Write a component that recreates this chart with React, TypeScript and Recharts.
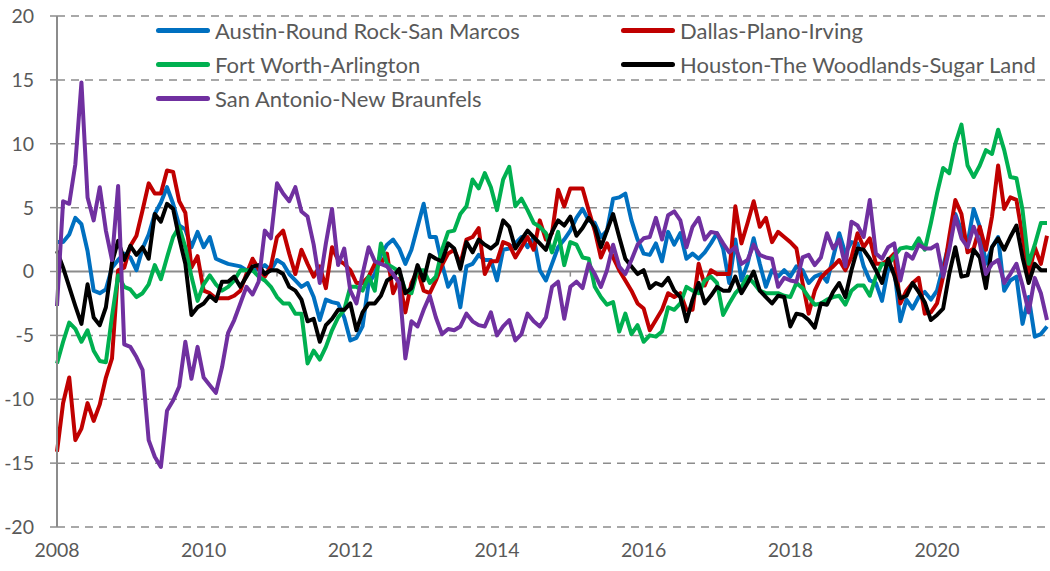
import React from "react";
import { CartesianGrid, Line, LineChart, ReferenceLine, XAxis, YAxis } from "recharts";

// monthly values, Jan 2008 .. Jul 2021
const austin = [
  2.3, 2.3, 2.9, 4.2, 3.7, 1.6, -1.5, -1.7, -1.4, 0.3, 0.9, 1.4,
  1.1, 0.1, 1.8, 2.9, 4.5, 5.4, 6.6, 5.3, 3.6, 3.3, 1.9, 3.1,
  1.9, 2.7, 1.0, 0.8, 0.6, 0.5, 0.4, 0.1, 0.1, 0.2, 0.5, 0.1,
  0.9, 0.6, -0.2, -0.7, -1.2, -0.9, -2.0, -3.8, -2.2, -2.4, -2.5, -3.6,
  -5.4, -5.2, -4.3, -0.9, -0.2, 1.3, 2.1, 2.5, 1.8, 0.6, 1.7, 3.5,
  5.3, 2.7, 2.7, 0.6, -1.2, -0.4, -2.8, 0.4, 0.6, 1.3, 0.9, 0.9,
  -0.7, 1.7, 1.8, 2.2, 2.7, 1.9, 2.7, 0.1, -0.7, 0.6, 1.9, 2.5,
  3.2, 4.2, 4.9, 4.0, 3.8, 2.7, 3.2, 5.7, 5.8, 6.1, 4.0, 2.5,
  1.4, 1.3, 2.2, 0.8, 3.1, 2.1, 3.0, 1.0, 1.4, 1.0, 1.5, 2.2,
  3.0, 1.8, -0.9, 2.5, -0.7, 0.6, 2.6, 0.6, -1.2, 0.1, -0.4, 0.1,
  -0.4, 0.4, 0.1, -0.9, -0.4, -0.2, -0.8, 1.1, 3.0, 1.4, 2.3, 2.2,
  0.4, -0.7, -0.9, -2.3, 0.2, 0.2, -3.9, -2.2, -2.9, -2.0, -1.6, -2.2,
  -1.5, 0.4, 2.2, 4.5, 3.2, 2.2, 4.9, 3.5, 0.6, 1.9, 2.7, -1.5,
  -0.7, -0.4, -4.1, -2.0, -5.1, -4.9, -4.3,
];

const dallas = [
  -14.1, -10.3, -8.3, -13.2, -12.3, -10.3, -11.7, -10.4, -8.3, -6.8, 0.1, 0.3,
  2.0, 2.8, 4.8, 6.9, 6.1, 6.1, 7.9, 7.8, 5.5, 4.6, 0.3, 1.2,
  -1.5, -1.7, -2.1, -2.1, -2.1, -1.9, -1.5, -0.2, 1.0, 0.2, -0.4, 0.4,
  2.7, 3.2, 1.4, -0.2, 1.7, 0.6, -0.4, 0.4, -1.3, 1.9, 0.9, 0.6,
  0.1, -0.9, -0.9, -0.4, 0.6, 0.6, 1.4, -1.7, -0.6, -3.2, -0.9, 0.1,
  -1.5, -1.7, -0.7, 0.5, 1.4, 1.7, 0.6, 2.5, 2.7, 3.4, -0.2, 0.8,
  0.8, 2.3, 2.1, 1.1, 1.9, 2.7, 1.7, 4.0, 2.5, 3.0, 6.4, 5.1,
  6.5, 6.5, 6.5, 4.8, 3.2, 1.1, 2.2, 1.1, 0.1, -0.7, -1.5, -2.5,
  -2.9, -4.6, -3.8, -3.0, -1.7, -2.0, -1.7, -3.0, -3.0, 0.6, -1.1, 0.1,
  -0.2, -0.2, -0.2, 5.1, 2.2, 3.8, 5.5, 3.5, 4.2, 2.3, 3.1, 2.7,
  2.3, 1.8, -0.9, -3.3, -1.5, -0.5, 0.0, 0.4, 0.9, 0.1, 1.1, 3.0,
  1.9, 2.6, 0.6, 0.6, 0.9, 1.4, -2.5, -1.5, -0.9, -0.5, -3.3, -3.2,
  -2.5, -0.4, 2.7, 5.6, 4.5, 1.5, 1.8, 3.5, 1.7, 4.3, 8.3, 4.9,
  5.8, 5.6, 2.7, -0.4, 1.9, 0.6, 2.8,
];

const fortWorth = [
  -7.2, -5.5, -4.0, -4.5, -5.5, -4.6, -6.2, -7.0, -7.1, -3.5, -0.3, -1.2,
  -1.4, -2.0, -1.7, -1.0, 0.5, -0.6, 1.1, 2.7, 3.5, 1.9, -0.4, -2.3,
  -1.0, -0.3, -1.0, -1.5, -1.2, -0.7, 0.1, 0.1, 0.1, -0.4, -0.7, -1.2,
  -2.0, -2.5, -2.5, -3.3, -3.3, -7.2, -6.2, -6.9, -5.9, -4.6, -3.6, -3.0,
  -1.2, -1.2, -1.5, -0.4, -1.5, 2.2, 0.6, 0.3, 0.0, -1.5, -1.7, 0.1,
  0.1, -0.9, -0.4, 1.7, 3.1, 3.2, 4.5, 5.1, 7.2, 6.5, 7.7, 6.6,
  4.8, 7.2, 8.2, 5.1, 5.7, 4.8, 3.8, 3.5, 3.0, 1.5, 3.1, 0.5,
  2.3, 2.1, 1.1, 1.0, -1.2, -2.0, -2.6, -2.4, -4.7, -3.3, -4.9, -4.2,
  -5.5, -5.0, -5.1, -4.7, -2.8, -3.0, -2.5, -1.2, -1.5, -1.7, -0.7, -0.4,
  -0.9, -3.4, -2.5, -1.7, -1.2, -0.4, -0.9, -1.5, -1.7, -1.7, -1.7, -1.9,
  -2.0, -0.9, -1.3, -2.0, -2.6, -2.5, -2.2, -2.0, -1.9, -2.6, -1.5, -1.1,
  -1.1, -1.9, -0.4, 0.6, 0.5, 1.2, 1.8, 1.9, 1.8, 2.6, 1.7, 3.8,
  6.1, 8.1, 7.7, 10.0, 11.5, 8.3, 7.4, 8.3, 9.5, 9.2, 11.1, 9.5,
  7.4, 7.3, 4.8, 0.6, 2.1, 3.8, 3.8,
];

const houston = [
  1.6, 0.3, -1.2, -2.7, -4.1, -1.0, -3.6, -4.2, -2.8, 0.7, 2.4, 0.9,
  2.0, 1.3, 1.9, 1.0, 4.5, 3.9, 5.3, 4.9, 2.6, 0.6, -3.4, -2.8,
  -2.5, -1.9, -2.3, -0.8, -0.8, -0.4, -1.2, -0.4, 0.4, 0.5, -0.2, 0.1,
  0.1, -0.2, -1.2, -1.5, -2.2, -3.9, -3.7, -5.5, -4.2, -3.7, -3.0, -3.0,
  -2.5, -4.6, -3.2, -2.5, -2.5, -1.9, -0.7, -0.4, 0.2, -1.7, -1.3, 0.5,
  -0.7, 1.3, 1.0, 0.8, 2.2, 1.8, 0.2, 2.3, 1.5, 2.5, 2.1, 1.8,
  2.2, 4.0, 3.5, 1.8, 2.5, 3.2, 2.7, 2.2, 1.7, 3.1, 4.0, 3.6,
  4.3, 2.8, 3.4, 4.2, 3.5, 1.9, 3.2, 4.5, 2.7, 1.0, 0.4, -0.2,
  0.1, -1.3, -0.9, -1.1, -0.5, -1.5, -2.0, -3.9, -2.2, -0.9, -2.5, -1.9,
  -1.2, -1.5, -1.5, -0.4, -1.7, -0.9, 0.0, -1.5, -2.0, -2.5, -1.9, -2.0,
  -4.3, -3.3, -3.4, -3.8, -4.4, -2.5, -2.6, -1.6, -0.9, -2.0, 0.1, 1.8,
  1.7, 1.0, 0.1, -0.9, 1.0, -0.3, -2.1, -1.9, -0.9, -1.6, -2.4, -3.8,
  -3.4, -2.9, -0.2, 1.9, -0.4, -0.3, 1.7, 1.1, -1.3, 1.9, 2.6, 1.7,
  2.7, 3.6, 1.1, -0.9, 0.6, 0.1, 0.1,
];

const sanAntonio = [
  -2.7, 5.5, 5.3, 8.4, 14.8, 5.8, 4.0, 6.6, 3.2, 0.9, 6.7, -5.7,
  -5.9, -6.7, -7.7, -13.2, -14.5, -15.3, -10.9, -10.1, -9.0, -5.5, -8.4, -5.9,
  -8.3, -8.9, -9.5, -7.5, -4.8, -3.8, -2.5, -1.2, -1.8, -0.8, 3.2, 2.6,
  6.9, 6.1, 5.5, 6.6, 4.7, 4.3, 2.1, -0.9, 2.2, 4.9, 0.5, 1.8,
  -1.5, -2.5, -0.2, 1.9, 0.8, 0.6, 0.4, -0.2, -0.9, -6.8, -3.9, -4.3,
  -3.0, -1.9, -3.6, -4.9, -4.5, -4.6, -4.3, -3.3, -3.9, -4.2, -4.3, -3.2,
  -5.0, -4.3, -3.8, -5.4, -4.9, -3.3, -3.9, -4.3, -3.6, -1.2, -0.8, -3.7,
  -1.2, -0.8, -1.3, 0.6, -0.2, -1.2, 0.1, 2.1, 0.4, -0.2, 0.9, 2.1,
  2.6, 2.7, 4.2, 2.5, 4.4, 4.7, 4.0, 1.9, 3.5, 4.2, 2.5, 3.1,
  3.0, 2.2, 1.5, 1.9, 0.6, 0.9, 2.1, 1.3, 1.1, 1.0, -1.2, -0.5,
  -0.7, -0.8, 1.1, 1.3, 0.5, 1.1, 3.0, 1.8, 2.5, 0.4, 3.9, 3.6,
  2.7, 5.6, 1.4, 1.0, 1.9, 2.2, -0.7, 1.4, 1.0, 2.1, 1.8, 1.8,
  2.1, -0.4, 1.7, 4.3, 2.6, 1.9, 3.5, 2.2, -0.2, 0.6, 0.9, -0.9,
  -0.2, 0.6, -1.1, -3.2, -0.5, -1.7, -3.8,
];

const yTicks = [-20, -15, -10, -5, 0, 5, 10, 15, 20];
const labelMonths = [0, 24, 48, 72, 96, 120, 144];
const labelYears = ["2008", "2010", "2012", "2014", "2016", "2018", "2020"];
const yearMarks = [12, 24, 36, 48, 60, 72, 84, 96, 108, 120, 132, 144, 156];

const series = [
  { key: "austin", label: "Austin-Round Rock-San Marcos", color: "#0070C0" },
  { key: "dallas", label: "Dallas-Plano-Irving", color: "#C00000" },
  { key: "fortWorth", label: "Fort Worth-Arlington", color: "#00B050" },
  { key: "houston", label: "Houston-The Woodlands-Sugar Land", color: "#000000" },
  { key: "sanAntonio", label: "San Antonio-New Braunfels", color: "#7030A0" },
];

const data = austin.map((v, i) => ({
  m: i,
  austin: v,
  dallas: dallas[i],
  fortWorth: fortWorth[i],
  houston: houston[i],
  sanAntonio: sanAntonio[i],
}));

const FONT = "Lato, 'Open Sans', sans-serif";
const GRAY = "#8c8c8c";
const TEXT = "#595959";

const gridLine = (p: any) => (
  <line
    key={`g-${p.index}`}
    x1={p.x1}
    y1={p.y1}
    x2={p.x2}
    y2={p.y2}
    stroke={GRAY}
    strokeWidth={p.index === 4 ? 2 : 1.5}
    strokeDasharray={p.index === 4 ? undefined : "8 6"}
  />
);

function ChartLegend() {
  return (
    <div
      style={{
        position: "absolute",
        left: 156,
        top: 13,
        display: "grid",
        gridTemplateColumns: "465px 420px",
        fontFamily: FONT,
        fontSize: 22,
        color: TEXT,
      }}
    >
      {series.map((s) => (
        <div key={s.key} style={{ display: "flex", alignItems: "center", height: 34, whiteSpace: "nowrap" }}>
          <span
            style={{
              display: "inline-block",
              width: 54,
              height: 5,
              borderRadius: 3,
              background: s.color,
              marginRight: 5,
            }}
          />
          <span>{s.label}</span>
        </div>
      ))}
    </div>
  );
}

export default function App() {
  return (
    <div style={{ position: "absolute", left: 0, top: 0, width: 1050, height: 571, background: "#fff" }}>
      <LineChart
        width={1050}
        height={571}
        data={data}
        margin={{ top: 16, right: 3, left: 0, bottom: 0 }}
      >
        <CartesianGrid vertical={false} horizontal={gridLine} />
        <XAxis
          type="number"
          dataKey="m"
          domain={[0, 162]}
          ticks={labelMonths}
          tickFormatter={(m: number) => labelYears[labelMonths.indexOf(m)] ?? ""}
          axisLine={false}
          tickLine={false}
          tickSize={0}
          tickMargin={16}
          height={44}
          interval={0}
          tick={{ fill: TEXT, fontSize: 19.5, fontFamily: FONT }}
        />
        <YAxis
          domain={[-20, 20]}
          ticks={yTicks}
          interval={0}
          width={57}
          axisLine={{ stroke: GRAY, strokeWidth: 2 }}
          tickLine={{ stroke: GRAY, strokeWidth: 1.5 }}
          tickSize={7}
          tickMargin={16}
          tick={{ fill: TEXT, fontSize: 19.5, fontFamily: FONT }}
        />
        {yearMarks.map((mk) => (
          <ReferenceLine
            key={mk}
            segment={[
              { x: mk, y: 0 },
              { x: mk, y: -0.4 },
            ]}
            stroke={GRAY}
            strokeWidth={1.5}
          />
        ))}
        {series.map((s) => (
          <Line
            key={s.key}
            type="linear"
            dataKey={s.key}
            name={s.label}
            stroke={s.color}
            strokeWidth={4}
            strokeLinejoin="round"
            dot={false}
            activeDot={false}
            isAnimationActive={false}
          />
        ))}
      </LineChart>
      <ChartLegend />
    </div>
  );
}
